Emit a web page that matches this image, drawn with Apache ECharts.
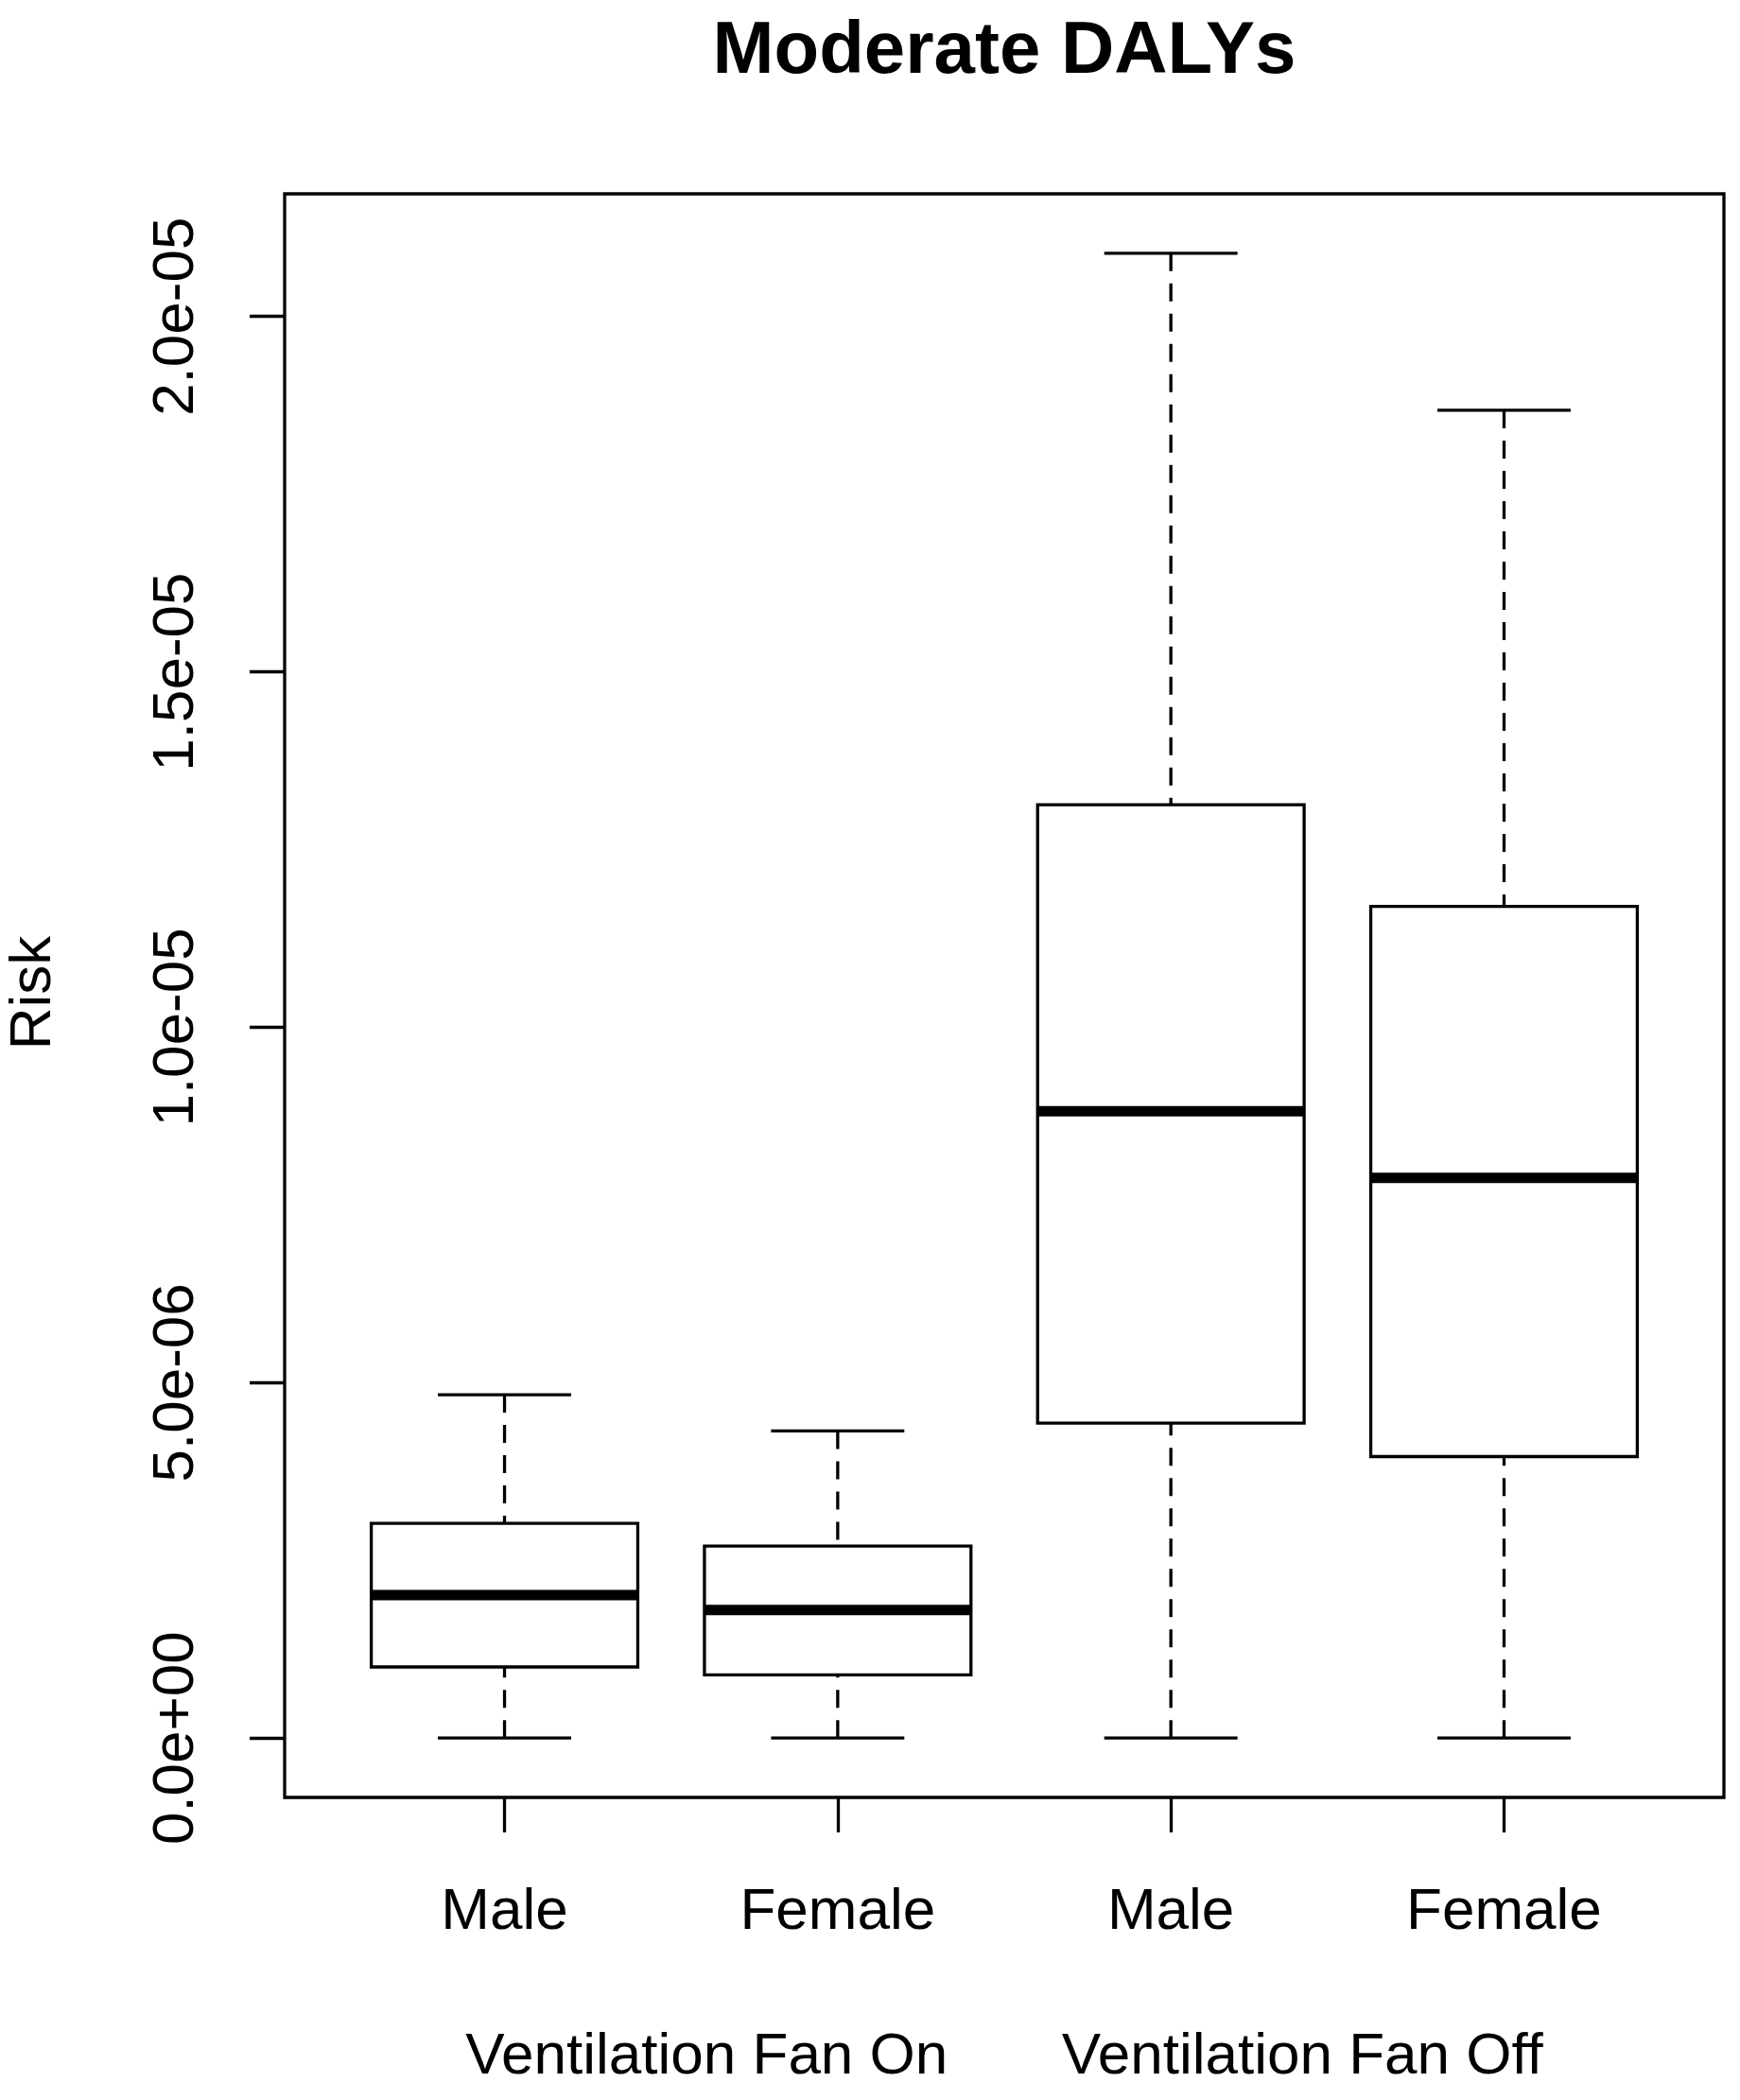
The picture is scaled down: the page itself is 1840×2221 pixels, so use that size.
<!DOCTYPE html>
<html>
<head>
<meta charset="utf-8">
<script src="https://cdn.jsdelivr.net/npm/echarts@6/dist/echarts.min.js"></script>
<style>
  html, body { margin: 0; padding: 0; background: #fff; }
  #Root { width: 1840px; height: 2221px; }
</style>
</head>
<body>
<div id="Root"></div>
<script>
// data
let categories = ["Male", "Female", "Male", "Female"]
let groupLabel = "Ventilation Fan On       Ventilation Fan Off"
let whiskerLow = [0, 0, 0, 0]
let lowerQuartile = [1.00e-6, 0.89e-6, 4.43e-6, 3.96e-6]
let medians = [2.01e-6, 1.80e-6, 8.82e-6, 7.88e-6]
let upperQuartile = [3.02e-6, 2.70e-6, 1.313e-5, 1.170e-5]
let whiskerHigh = [4.83e-6, 4.32e-6, 2.089e-5, 1.868e-5]
let yTicks = [0, 5e-6, 1e-5, 1.5e-5, 2e-5]
let yTickLabels = ["0.0e+00", "5.0e-06", "1.0e-05", "1.5e-05", "2.0e-05"]

const FONT = "Liberation Sans, Arial, sans-serif"

// R pads axis range by 4%
let dataMin = Math.min(...whiskerLow)
let dataMax = Math.max(...whiskerHigh)
let pad = (dataMax - dataMin) * 0.04
let xPos = categories.map((c, i) => i + 1)

let boxData = categories.map((c, i) => [xPos[i], whiskerLow[i], lowerQuartile[i], medians[i], upperQuartile[i], whiskerHigh[i]])

let gridLeft = 301, gridTop = 205, gridWidth = 1522, gridHeight = 1696

function renderBox(params, api) {
    let x = api.value(0)
    let lo = api.value(1), q1 = api.value(2), med = api.value(3), q3 = api.value(4), hi = api.value(5)
    let halfBox = 0.4, halfCap = 0.2
    let pLo = api.coord([x, lo]), pHi = api.coord([x, hi])
    let pQ1 = api.coord([x, q1]), pQ3 = api.coord([x, q3])
    let boxL = api.coord([x - halfBox, q3]), boxR = api.coord([x + halfBox, q1])
    let medL = api.coord([x - halfBox, med]), medR = api.coord([x + halfBox, med])
    let capL = api.coord([x - halfCap, hi])[0], capR = api.coord([x + halfCap, hi])[0]
    let dashed = { stroke: "#000", lineWidth: 3.3, lineDash: [19, 13] }
    let solid = { stroke: "#000", lineWidth: 3.3 }
    return {
        type: "group",
        children: [
            { type: "line", shape: { x1: pHi[0], y1: pHi[1], x2: pQ3[0], y2: pQ3[1] }, style: dashed },
            { type: "line", shape: { x1: pLo[0], y1: pLo[1], x2: pQ1[0], y2: pQ1[1] }, style: dashed },
            { type: "line", shape: { x1: capL, y1: pHi[1], x2: capR, y2: pHi[1] }, style: solid },
            { type: "line", shape: { x1: capL, y1: pLo[1], x2: capR, y2: pLo[1] }, style: solid },
            { type: "rect", shape: { x: boxL[0], y: boxL[1], width: boxR[0] - boxL[0], height: boxR[1] - boxL[1] },
              style: { fill: null, stroke: "#000", lineWidth: 3.3 } },
            { type: "line", shape: { x1: medL[0], y1: medL[1], x2: medR[0], y2: medR[1] },
              style: { stroke: "#000", lineWidth: 11 } }
        ]
    }
}

let chart = echarts.init(document.getElementById("Root"), null, { renderer: "canvas" })

let option = {
    backgroundColor: "#fff",
    animation: false,
    grid: {
        left: gridLeft, top: gridTop, width: gridWidth, height: gridHeight,
        show: true, borderColor: "#000", borderWidth: 3.3, backgroundColor: "transparent"
    },
    xAxis: {
        type: "value",
        min: 0.34,
        max: 4.66,
        position: "bottom",
        axisLine: { show: false, onZero: false },
        splitLine: { show: false },
        axisTick: { show: true, length: 37, customValues: xPos, lineStyle: { color: "#000", width: 3.3 } },
        axisLabel: {
            customValues: xPos,
            formatter: v => categories[Math.round(v) - 1],
            margin: 122,
            verticalAlign: "middle",
            fontSize: 62,
            fontFamily: FONT,
            color: "#000"
        }
    },
    yAxis: {
        type: "value",
        min: dataMin - pad,
        max: dataMax + pad,
        position: "left",
        axisLine: { show: false, onZero: false },
        splitLine: { show: false },
        axisTick: { show: true, length: 37, customValues: yTicks, lineStyle: { color: "#000", width: 3.3 } },
        axisLabel: {
            customValues: yTicks,
            rotate: 90,
            formatter: v => {
                let i = yTicks.findIndex(t => Math.abs(t - v) < 1e-12)
                return i >= 0 ? yTickLabels[i] : ""
            },
            margin: 114,
            align: "center",
            verticalAlign: "middle",
            fontSize: 62,
            fontFamily: FONT,
            color: "#000"
        }
    },
    graphic: [
        {
            type: "text", x: gridLeft + gridWidth / 2, y: 55,
            style: { text: "Moderate DALYs", fontSize: 78, fontWeight: "bold", fontFamily: FONT, fill: "#000",
                     align: "center", verticalAlign: "middle" }
        },
        {
            type: "text", x: 36, y: 1050, rotation: Math.PI / 2,
            style: { text: "Risk", fontSize: 62, fontFamily: FONT, fill: "#000",
                     align: "center", verticalAlign: "middle" }
        },
        {
            type: "text", x: gridLeft + gridWidth / 2, y: 2176,
            style: { text: groupLabel, fontSize: 62, fontFamily: FONT, fill: "#000",
                     align: "center", verticalAlign: "middle" }
        }
    ],
    series: [
        {
            type: "custom",
            renderItem: renderBox,
            encode: { x: 0, y: [1, 2, 3, 4, 5] },
            data: boxData,
            clip: false
        }
    ]
}

chart.setOption(option)
</script>
</body>
</html>
